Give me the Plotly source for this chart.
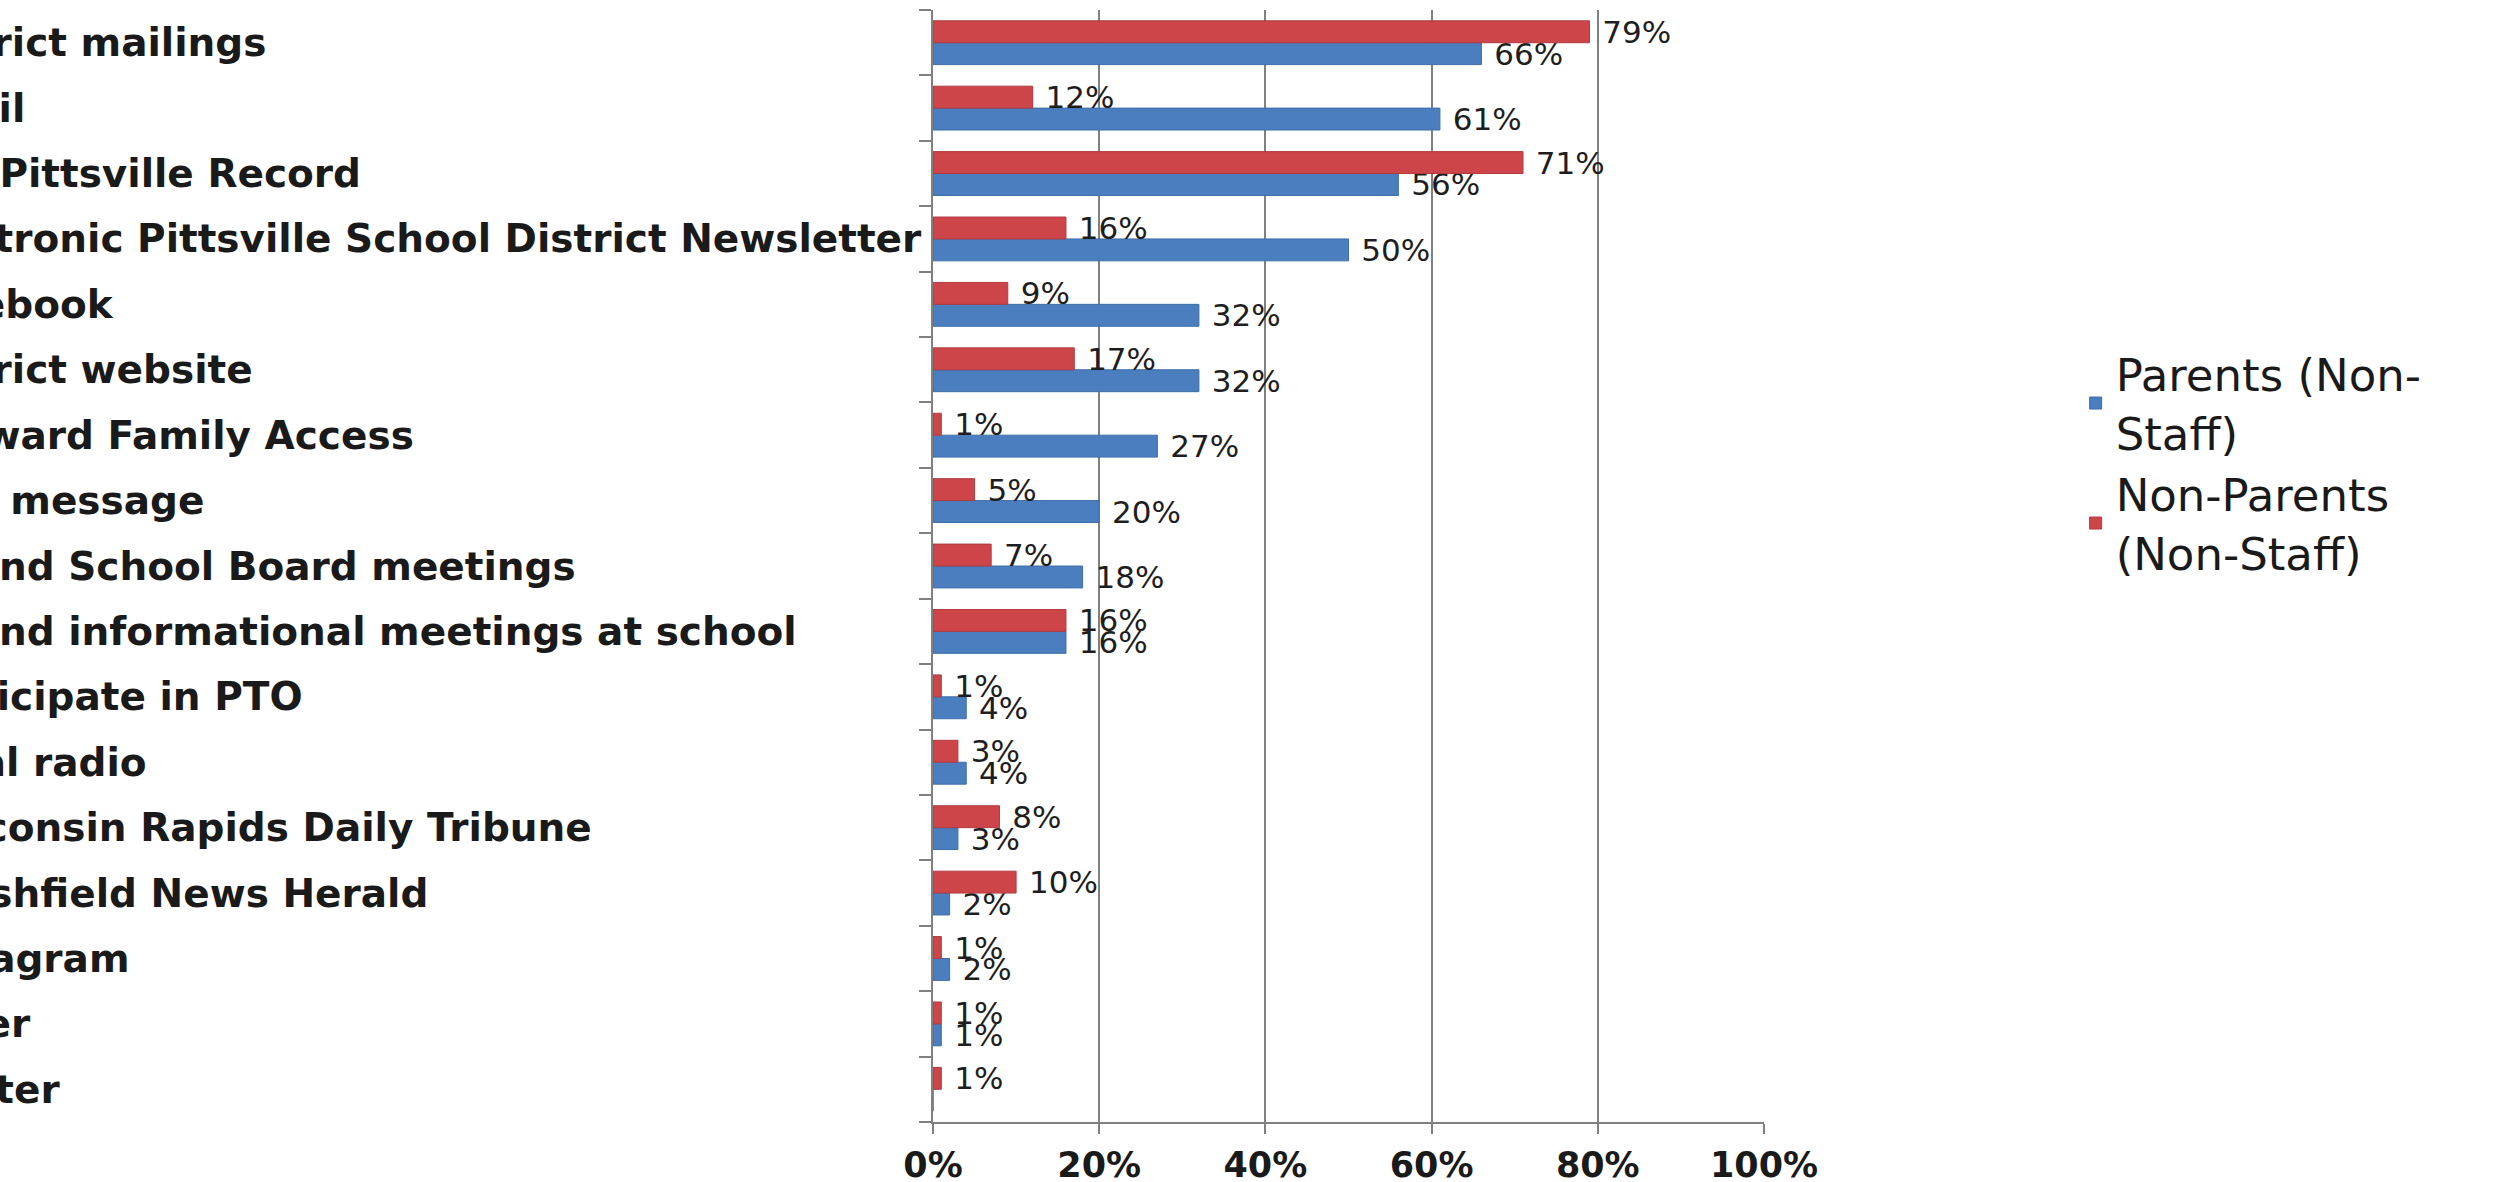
import plotly.graph_objects as go

# Categories listed top to bottom as they appear in the chart
categories = [
    "District mailings",
    "Email",
    "The Pittsville Record",
    "Electronic Pittsville School District Newsletter",
    "Facebook",
    "District website",
    "Skyward Family Access",
    "Text message",
    "Attend School Board meetings",
    "Attend informational meetings at school",
    "Participate in PTO",
    "Local radio",
    "Wisconsin Rapids Daily Tribune",
    "Marshfield News Herald",
    "Instagram",
    "Other",
    "Twitter",
]
parents = [66, 61, 56, 50, 32, 32, 27, 20, 18, 16, 4, 4, 3, 2, 2, 1, 0]
non_parents = [79, 12, 71, 16, 9, 17, 1, 5, 7, 16, 1, 3, 8, 10, 1, 1, 1]
x_ticks = [0, 20, 40, 60, 80, 100]
x_tick_text = ["0%", "20%", "40%", "60%", "80%", "100%"]
series_names = ["Parents (Non-<br>Staff)", "Non-Parents<br>(Non-Staff)"]

BLUE = "#4A7EBF"
RED = "#CD4449"
GRID = "#808080"
LABEL_FONT = "DejaVu Sans"


def labels(vals):
    return ["\u00a0" + f"{v}%" if v > 0 else "" for v in vals]


fig = go.Figure()
fig.add_trace(go.Bar(
    y=categories, x=parents, orientation="h", name=series_names[0],
    marker=dict(color=BLUE, line=dict(color="#3F6EA8", width=1)),
    text=labels(parents), textposition="outside", cliponaxis=False,
    textfont=dict(family=LABEL_FONT, size=31, color="#1e1e1e"),
    constraintext="none",
))
fig.add_trace(go.Bar(
    y=categories, x=non_parents, orientation="h", name=series_names[1],
    marker=dict(color=RED, line=dict(color="#B03C40", width=1)),
    text=labels(non_parents), textposition="outside", cliponaxis=False,
    textfont=dict(family=LABEL_FONT, size=31, color="#1e1e1e"),
    constraintext="none",
))

# Left-aligned category labels (the reference crops them at the left edge)
for cat in categories:
    fig.add_annotation(
        x=-1.240, y=cat, xref="paper", yref="y", text=cat, showarrow=False,
        xanchor="left", yanchor="middle",
        font=dict(family=LABEL_FONT, size=39, color="#1a1a1a", weight="bold"),
    )

fig.update_layout(
    width=2501, height=1182,
    margin=dict(l=933, r=737, t=10, b=60),
    paper_bgcolor="white", plot_bgcolor="white",
    barmode="group", bargap=0.33, bargroupgap=0,
    showlegend=True,
    legend=dict(
        x=1.375, y=0.705, xanchor="left", yanchor="top",
        font=dict(family=LABEL_FONT, size=45, color="#1a1a1a"),
        traceorder="normal", itemwidth=30, bgcolor="rgba(0,0,0,0)",
    ),
    xaxis=dict(
        range=[0, 100], tickvals=x_ticks, ticktext=x_tick_text,
        showgrid=True, gridcolor=GRID, gridwidth=2,
        showline=True, linecolor=GRID, linewidth=2,
        ticks="outside", ticklen=10, tickwidth=2, tickcolor=GRID,
        tickfont=dict(family=LABEL_FONT, size=35, color="#1a1a1a", weight="bold"),
        ticklabelstandoff=1,
        zeroline=False, automargin=False,
    ),
    yaxis=dict(
        categoryorder="array", categoryarray=list(reversed(categories)),
        showticklabels=False, showgrid=False,
        showline=True, linecolor=GRID, linewidth=2,
        ticks="outside", ticklen=12, tickwidth=2, tickcolor=GRID,
        tickson="boundaries", automargin=False,
    ),
)

fig.write_html(
    "out.html",
    config={"displayModeBar": False},
    post_script="document.body.style.margin='0';document.body.style.overflow='hidden';",
)
